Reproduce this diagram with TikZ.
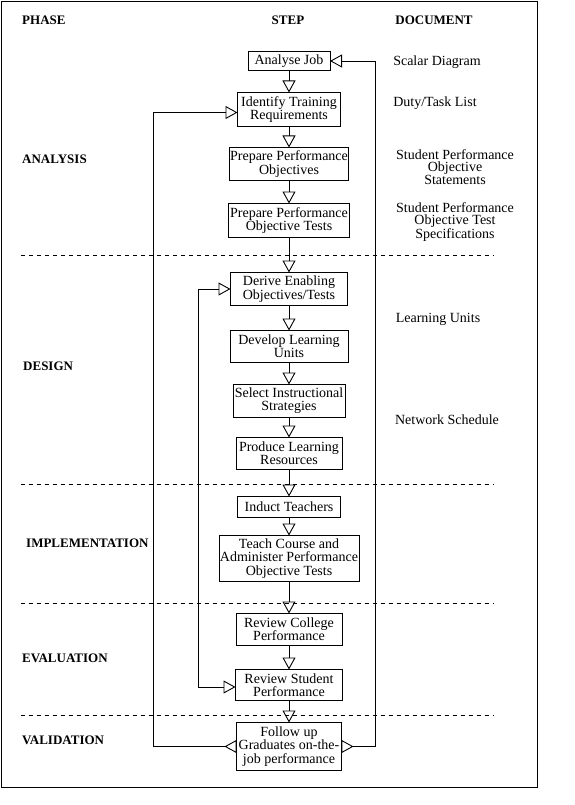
\documentclass[tikz,border=0pt]{standalone}
\usepackage{fontspec}
\setmainfont{Liberation Serif}
\usetikzlibrary{arrows.meta, positioning}
\tikzset{
  % Step box style
  stepbox/.style={
    draw, align=center, inner sep=1pt, outer sep=0pt, line width=0.9pt,
    font=\fontsize{14}{13.3}\selectfont
  },
  % Step arrow style
  sarr/.style={
    line width = 0.9pt,
    -{Triangle[open, length=12pt, width=13pt]}
  },
}

\begin{document}
\begin{tikzpicture}
          [x=1pt, y=-1pt
          , phase/.style={font=\fontsize{13}{13}\selectfont\bfseries, anchor=west, inner sep=0pt}
          , doc/.style={font=\fontsize{14}{12.7}\selectfont, align=center, inner sep=0pt}
          , looparr/.style={line width=0.9pt
                          , {Triangle[open, reversed, length=12pt, width=13pt]}-{Triangle[open, length=12pt, width=13pt]}}
          , sepline/.style={line width=0.9pt, dash pattern=on 4pt off 4pt}
          ]
          \useasboundingbox (0,0) rectangle (574,805);
          \draw[line width=0.9pt] (1.5,1.5) rectangle (537,787);

          % headers
          \node (hphase) [phase] at (22,20) {PHASE};
          \node (hstep) [phase, anchor=center] at (288,20) {STEP};
          \node (hdoc) [phase, anchor=center] at (434,20) {DOCUMENT};

          % phases
          \node (panal) [phase] at (22,159) {ANALYSIS};
          \node (pdes) [phase] at (23,366) {DESIGN};
          \node (pimpl) [phase] at (26,543) {IMPLEMENTATION};
          \node (peval) [phase] at (22,658) {EVALUATION};
          \node (pvalid) [phase] at (22,740) {VALIDATION};

          % steps
          \node (anjob) [stepbox
                        , minimum width=82pt, minimum height=19pt
                        ] at (289,61) {Analyse Job};
          \node (idtr) [stepbox
                       , below=22pt of anjob
                       , minimum width=103pt, minimum height=34pt
                       ] {Identify Training\\Requirements};
          \node (prepobj) [stepbox
                          , below=21pt of idtr
                          , minimum width=118pt, minimum height=33pt
                          ] {Prepare Performance\\Objectives};
          \node (preptst) [stepbox
                          , below=23pt of prepobj
                          , minimum width=121pt, minimum height=34pt
                          ] {Prepare Performance\\Objective Tests};
          \node (derive) [stepbox
                         , below=35pt of preptst
                         , minimum width=117pt, minimum height=33pt
                         ] {Derive Enabling\\Objectives/Tests};
          \node (devlu) [stepbox
                        , below=25pt of derive
                        , minimum width=118pt, minimum height=32pt
                        ] {Develop Learning\\Units};
          \node (selis) [stepbox
                        , below=22pt of devlu
                        , minimum width=112pt, minimum height=33pt
                        ] {Select Instructional\\Strategies};
          \node (prodlr) [stepbox
                         , below=20pt of selis
                         , minimum width=106pt, minimum height=32pt
                         ] {Produce Learning\\Resources};
          \node (induct) [stepbox
                         , below=27pt of prodlr
                         , minimum width=103pt, minimum height=21pt
                         ] {Induct Teachers};
          \node (teach) [stepbox
                        , below=18pt of induct
                        , minimum width=139pt, minimum height=46pt
                        ] {Teach Course and\\Administer Performance\\Objective Tests};
          \node (revcol) [stepbox
                         , below=32pt of teach
                         , minimum width=106pt, minimum height=32pt
                         ] {Review College\\Performance};
          \node (revstu) [stepbox
                         , below=24pt of revcol
                         , minimum width=107pt, minimum height=31pt
                         ] {Review Student\\Performance};
          \node (follow) [stepbox
                         , below=22pt of revstu
                         , minimum width=105pt, minimum height=48pt
                         ] {Follow up\\Graduates on-the-\\job performance};

          % documents
          \node (dscal) [doc] at (437,62) {Scalar Diagram};
          \node (dduty) [doc] at (435,103) {Duty/Task List};
          \node (dspos) [doc] at (455,167) {Student Performance\\Objective\\Statements};
          \node (dspot) [doc] at (455,222) {Student Performance\\Objective Test\\Specifications};
          \node (dlu) [doc] at (438,319) {Learning Units};
          \node (dnet) [doc] at (447,420) {Network Schedule};

          % phase separators
          \foreach \yy in {255,484,603,715}
            \draw[sepline] (21,\yy) -- (494,\yy);

          % step flow
          \draw[sarr] (anjob) -- (idtr);
          \draw[sarr] (idtr) -- (prepobj);
          \draw[sarr] (prepobj) -- (preptst);
          \draw[sarr] (preptst) -- (derive);
          \draw[sarr] (derive) -- (devlu);
          \draw[sarr] (devlu) -- (selis);
          \draw[sarr] (selis) -- (prodlr);
          \draw[sarr] (prodlr) -- (induct);
          \draw[sarr] (induct) -- (teach);
          \draw[sarr] (teach) -- (revcol);
          \draw[sarr] (revcol) -- (revstu);
          \draw[sarr] (revstu) -- (follow);

          % feedback loops
          \coordinate (lftloop) at (153,0);
          \coordinate (inloop) at (198,0);
          \coordinate (rgtloop) at (375.5,0);
          \draw[looparr] (follow.west) -- (follow.west -| lftloop)
                         |- ([yshift=-3pt]idtr.west);
          \draw[looparr] (follow.east) -- (follow.east -| rgtloop)
                         |- (anjob.east);
          \draw[line width=0.9pt
               , {Triangle[open, length=12pt, width=13pt]}-{Triangle[open, length=12pt, width=13pt]}]
               ([yshift=-2pt]revstu.west) -- ([yshift=-2pt]revstu.west -| inloop)
               |- (derive.west);
      \end{tikzpicture}
\end{document}
